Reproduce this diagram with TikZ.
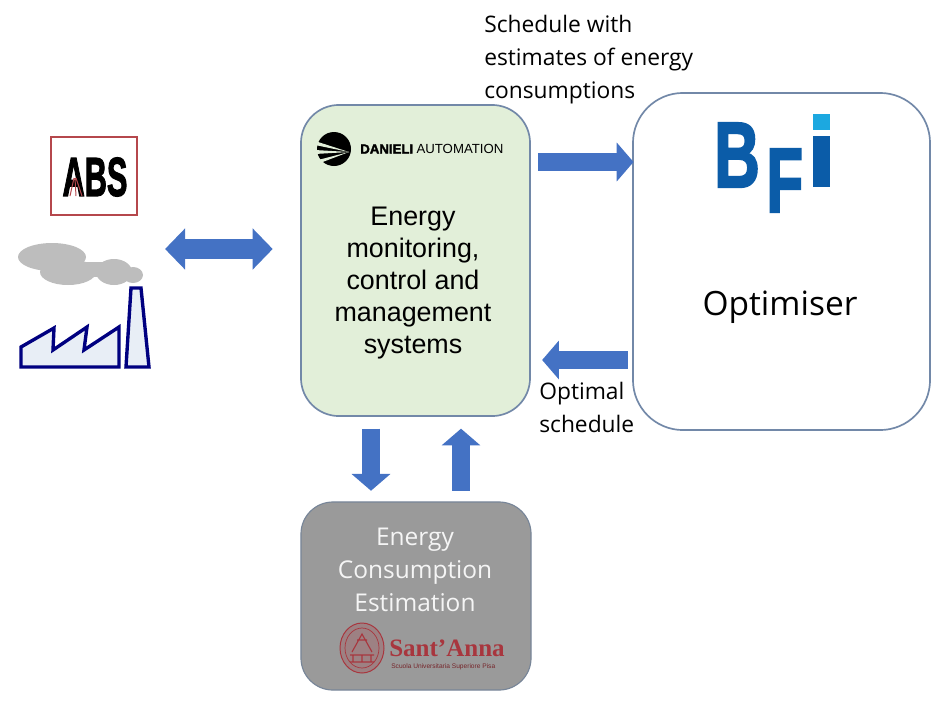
\documentclass[tikz,border=0pt]{standalone}
\usepackage{fontspec}
\setmainfont{Liberation Sans}
\newfontfamily\labelfont{Open Sans}
\newfontfamily\serifmark[BoldFont={Liberation Serif Bold}]{Liberation Serif}
\newfontfamily\logofont[BoldFeatures={FakeBold=2.5}]{Liberation Sans}
\usetikzlibrary{arrows.meta, positioning}
\definecolor{boxline}{HTML}{7288A8}
\definecolor{boxgreen}{HTML}{E2EFD9}
\definecolor{boxgray}{HTML}{9A9A9A}
\definecolor{arrowblue}{HTML}{4472C4}
\definecolor{bfiblue}{HTML}{0B5CA8}
\definecolor{bficyan}{HTML}{1CA8E0}
\definecolor{absred}{HTML}{B5474C}
\definecolor{ssared}{HTML}{A8363E}
\definecolor{plantnavy}{HTML}{000080}
\definecolor{plantfill}{HTML}{E8EEF6}
\definecolor{smoke}{HTML}{BDBDBD}
\tikzset{x=0.025cm,y=-0.025cm,
    monitorbox/.style={rectangle,draw=boxline,line width=1.2pt,fill=boxgreen,rounded corners=0.95cm,minimum width=5.725cm,minimum height=7.775cm},
    optimbox/.style={rectangle,draw=boxline,line width=1.2pt,fill=white,rounded corners=1.25cm,minimum width=7.425cm,minimum height=8.425cm},
    estimbox/.style={rectangle,draw=boxline!60!gray,line width=.8pt,fill=boxgray,rounded corners=0.8cm,minimum width=5.75cm,minimum height=4.7cm},
    fatarrow/.style={draw=arrowblue,line width=0.47cm,-{Triangle[length=0.42cm,width=0.95cm]}},
    twoarrow/.style={draw=arrowblue,line width=0.5cm,{Triangle[length=0.5cm,width=1cm]}-{Triangle[length=0.5cm,width=1cm]}},
    plantline/.style={draw=plantnavy,line width=2.4pt,fill=plantfill,line join=miter},
    puff/.style={fill=smoke},
    textnode/.style={font=\labelfont\fontsize{16.2}{23.5}\selectfont,align=left,anchor=north west,inner sep=0pt},
    bfiletter/.style={text=bfiblue,inner sep=0pt,anchor=base west}}

\begin{document}
\begin{tikzpicture}
\useasboundingbox (0,0) rectangle (938,705);
\node[monitorbox] (monitor) at (415.5,260.5) {};
\node[optimbox]   (optim)   at (781.5,261.5) {};
\node[estimbox]   (estim)   at (416,596) {};
\node[draw=absred,line width=1.2pt,minimum width=2.15cm,minimum height=1.95cm] (absbox) at (94,176) {};
\coordinate (plant) at (150,249);
% monitoring box texts
\node[align=center,inner sep=0pt,font=\fontsize{19.1}{22.8}\selectfont] (monitortext) at (413,283) {Energy\\monitoring,\\control and\\management\\systems};
\fill (334,149) circle (17);
\fill[boxgreen] (349,152) -- (315,141) -- (315,145) -- cycle;
\fill[boxgreen] (349,152) -- (315,150) -- (315,154) -- cycle;
\fill[boxgreen] (349,152) -- (318,160) -- (320,163) -- cycle;
\node[anchor=west,inner sep=0pt,font=\logofont\bfseries\fontsize{9.4}{10}\selectfont] (danieli) at (360,149) {DANIELI};
\node[right=2pt of danieli,inner sep=0pt,font=\fontsize{9.4}{10}\selectfont] (automation) {AUTOMATION};
% optimiser logo and text
\node[bfiletter,font=\logofont\bfseries\fontsize{66}{66}\selectfont] (bfib) at (714,187) {\scalebox{.68}[1]{B}};
\node[bfiletter,font=\logofont\bfseries\fontsize{65}{65}\selectfont] (bfif) at (766,212) {\scalebox{.66}[1]{F}};
\node[fill=bfiblue,minimum width=0.425cm,minimum height=1.275cm,inner sep=0pt] (bfii) at (821.5,161.5) {};
\node[fill=bficyan,minimum width=0.425cm,minimum height=0.4cm,inner sep=0pt,above=0.125cm of bfii] (bfidot) {};
\node[font=\labelfont\fontsize{23.8}{26}\selectfont,inner sep=0pt] (optimtext) at (780,307) {Optimiser};
% estimation box
\node[align=center,inner sep=0pt,text=white!92!gray,font=\labelfont\fontsize{17.4}{23.7}\selectfont] (estimtext) at (415,570) {Energy\\Consumption\\Estimation};
\draw[ssared,line width=.7pt,fill=boxgray!75!ssared] (362,648) ellipse (22 and 25);
\draw[ssared,line width=.5pt] (362,648) ellipse (17 and 20);
\draw[ssared,line width=.8pt] (350,662) -- (374,662) (350,655) -- (374,655) (353,655) -- (353,662) (362,655) -- (362,662) (371,655) -- (371,662) (352,652) -- (362,634) -- (372,652) (357,640) -- (367,640);
\node[anchor=base west,inner sep=0pt,text=ssared,font=\serifmark\bfseries\fontsize{17.8}{20}\selectfont] (santanna) at (389,656) {Sant’Anna};
\node[anchor=base west,inner sep=0pt,text=ssared!70!black,font=\fontsize{4.7}{6}\selectfont] (scuola) at (391,668) {Scuola Universitaria Superiore Pisa};
% left side logo and plant
\node[inner sep=0pt,font=\logofont\bfseries\fontsize{39}{39}\selectfont] (abstext) at (95,177) {\scalebox{.56}[1]{ABS}};
\draw[absred,line width=.7pt] (74,178) -- (70,196) (75,178) -- (76,196) (76,178) -- (82,196);
\fill[puff] (52,257) ellipse (34 and 14);
\fill[puff] (68,272) ellipse (28 and 13);
\fill[puff] (114,272) ellipse (18 and 13);
\fill[puff] (133,275) ellipse (10 and 8);
\fill[puff] (85,262) rectangle (105,277);
\draw[plantline] (21,347) -- (54,328) -- (53,350) -- (87,327) -- (84,350) -- (119,327) -- (119,367) -- (21,367) -- cycle;
\draw[plantline] (131,288) -- (141,288) -- (149,367) -- (126,367) -- cycle;
% labels
\node[textnode] (schedtext) at (484,15) {Schedule with\\estimates of energy\\consumptions};
\node[textnode] (optimaltext) at (539,382) {Optimal\\schedule};
% arrows
\draw[twoarrow,shorten <=10.7pt,shorten >=19.5pt] (plant) -- (monitor.west |- plant);
\draw[fatarrow,shorten <=5pt,shorten >=-1pt] (monitor.east |- 0,162) -- (optim.west |- 0,162);
\draw[fatarrow,shorten <=3pt,shorten >=8pt] (optim.west |- 0,360) -- (monitor.east |- 0,360);
\draw[fatarrow,shorten <=9pt,shorten >=8pt] (371,416) -- (371,502);
\draw[fatarrow,shorten <=8pt,shorten >=9pt] (461,502) -- (461,416);
\end{tikzpicture}
\end{document}
